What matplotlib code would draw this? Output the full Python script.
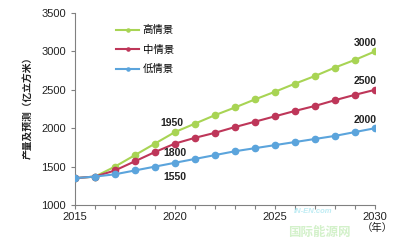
import matplotlib
matplotlib.use("Agg")
import matplotlib.pyplot as plt

plt.rcParams['font.family'] = ['Liberation Sans', 'Noto Sans CJK SC', 'DejaVu Sans']

years = list(range(2015, 2031))
high = [1350, 1370, 1500, 1650, 1800, 1950, 2060, 2170, 2270, 2375, 2475, 2580, 2680, 2790, 2890, 3000]
mid = [1350, 1370, 1450, 1570, 1690, 1800, 1875, 1940, 2015, 2085, 2155, 2225, 2290, 2365, 2435, 2500]
low = [1350, 1370, 1400, 1450, 1500, 1550, 1600, 1650, 1700, 1740, 1780, 1820, 1860, 1900, 1950, 2000]
series_names = ['高情景', '中情景', '低情景']
colors = ['#a8d454', '#be3659', '#5ba4dc']
annot_year = [2020, 2020, 2020, 2030, 2030, 2030]
annot_val = [1950, 1800, 1550, 3000, 2500, 2000]
ylabel = '产量及预测（亿立方米）'
xlabel_unit = '（年）'

fig = plt.figure(figsize=(4, 2.4), dpi=100)
ax = fig.add_axes([0.1875, 0.1458, 0.75, 0.80])

for vals, name, c in zip([high, mid, low], series_names, colors):
    ax.plot(years, vals, color=c, lw=1.5, marker='o', ms=4.5, label=name, zorder=3)

ax.set_xlim(2015, 2030)
ax.set_ylim(1000, 3500)
ax.set_xticks([2015, 2020, 2025, 2030])
ax.set_xticks(years, minor=True)
ax.set_yticks([1000, 1500, 2000, 2500, 3000, 3500])
ax.tick_params(axis='both', labelsize=8, color='#808080', length=3, width=0.8, labelcolor='#222222')
ax.tick_params(axis='x', which='minor', length=3, color='#808080', width=0.8)
ax.tick_params(axis='x', pad=2)
for s in ['top', 'right']:
    ax.spines[s].set_visible(False)
for s in ['left', 'bottom']:
    ax.spines[s].set_color('#808080')
    ax.spines[s].set_linewidth(0.8)

offsets = [(-3, 9), (0, -9.5), (0, -14), (-10, 8), (-10, 8.5), (-10, 8)]
for x, y, off in zip(annot_year, annot_val, offsets):
    ax.annotate(str(y), xy=(x, y), xytext=off, textcoords='offset pixels',
                fontsize=7.5, fontweight='bold', color='#222222', ha='center', va='center')

ax.legend(loc='upper left', bbox_to_anchor=(0.107, 0.985), frameon=False, fontsize=7.5,
          handlelength=2.2, handletextpad=0.3, labelspacing=0.9, markerscale=0.5)

fig.text(0.068, 0.56, ylabel, rotation=90, fontsize=7, fontweight='bold',
         ha='center', va='center', color='#222222')
fig.text(0.943, 0.05, xlabel_unit, fontsize=7.5, ha='center', va='center', color='#222222')

fig.text(0.735, 0.12, 'IN-EN.com', fontsize=5.5, color='#7fd9e8', alpha=0.5,
         fontweight='bold', style='italic', va='center')
fig.text(0.72, 0.028, '国际能源网', fontsize=9, color='#9ee08a', alpha=0.45,
         fontweight='bold', va='center')

fig.savefig('out.png', dpi=100)
